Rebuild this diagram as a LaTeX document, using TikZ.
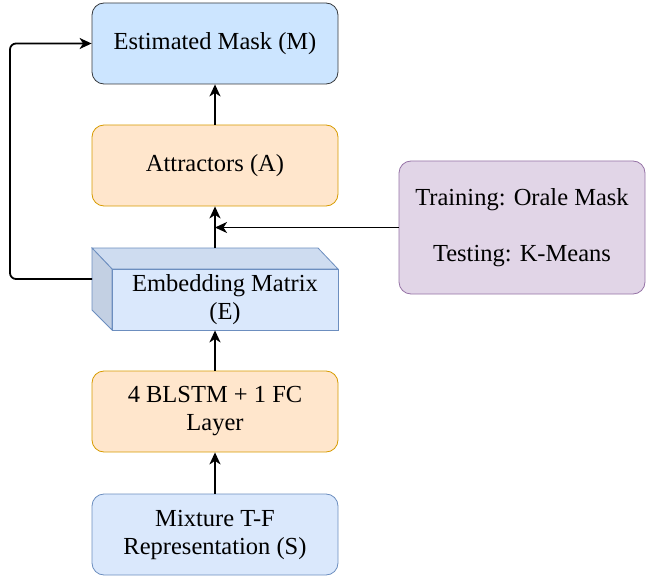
\documentclass[tikz,border=0pt]{standalone}
\usepackage{fontspec}
\setmainfont{Liberation Serif}
\usetikzlibrary{arrows.meta}

\definecolor{maskfill}{HTML}{CCE5FF}
\definecolor{maskline}{HTML}{36393D}
\definecolor{orfill}{HTML}{FFE6CC}
\definecolor{orline}{HTML}{D79B00}
\definecolor{blfill}{HTML}{DAE8FC}
\definecolor{blline}{HTML}{6C8EBF}
\definecolor{blside}{HTML}{C3D0E3}
\definecolor{bltop}{HTML}{CEDCF0}
\definecolor{pufill}{HTML}{E1D5E7}
\definecolor{puline}{HTML}{9673A6}

\tikzset{
    block/.style={rectangle, rounded corners=12pt, draw, line width=0.8pt,
        minimum width=246pt, minimum height=81pt, align=center,
        font=\fontsize{24.5}{28}\selectfont},
    flow/.style={-{Stealth[length=12pt,width=11pt,inset=3.5pt]}, line width=1.8pt}
}

\begin{document}
\begin{tikzpicture}[x=1pt, y=-1pt]
        \useasboundingbox (0,0) rectangle (649,578);

        % blocks of the network
        \node[block, fill=maskfill, draw=maskline] (mask) at (215, 43.5) {Estimated Mask (M)};
        \node[block, fill=orfill, draw=orline] (attr) at (215, 165.5) {Attractors (A)};
        \node[block, fill=orfill, draw=orline] (lstm) at (215, 411.5) {4 BLSTM + 1 FC\\Layer};
        \node[block, fill=blfill, draw=blline] (mix) at (215, 534.5) {Mixture T-F\\Representation (S)};
        \node[block, fill=pufill, draw=puline, minimum height=133pt] (kmeans) at (522, 227.5)
            {Training: Orale Mask\\[28pt]Testing: K-Means};

        % embedding matrix as a box with depth
        \fill[bltop, draw=blline, line width=0.8pt] (92,248) -- (318,248) -- (338,269) -- (112,269) -- cycle;
        \fill[blside, draw=blline, line width=0.8pt] (92,248) -- (112,269) -- (112,330) -- (92,310) -- cycle;
        \node[rectangle, draw=blline, fill=blfill, line width=0.8pt, minimum width=226pt,
            minimum height=61pt, inner sep=0pt, align=center, font=\fontsize{24.5}{28}\selectfont]
            (emb) at (225, 299.5) {Embedding Matrix\\(E)};
        \coordinate (embtop) at (215, 248);
        \coordinate (embleft) at (92, 279);
        \coordinate (join) at (215, 227.5);

        % connections
        \draw[flow] (mix.north) -- (lstm.south);
        \draw[flow] (lstm.north) -- (emb.south -| lstm.north);
        \draw[flow] (embtop) -- (attr.south);
        \draw[flow] (kmeans.west) -- (join);
        \draw[flow] (attr.north) -- (mask.south);
        \draw[flow, rounded corners=6pt] (embleft) -- (10, 279) -- (10, 43.5) -- (mask.west);
\end{tikzpicture}
\end{document}
